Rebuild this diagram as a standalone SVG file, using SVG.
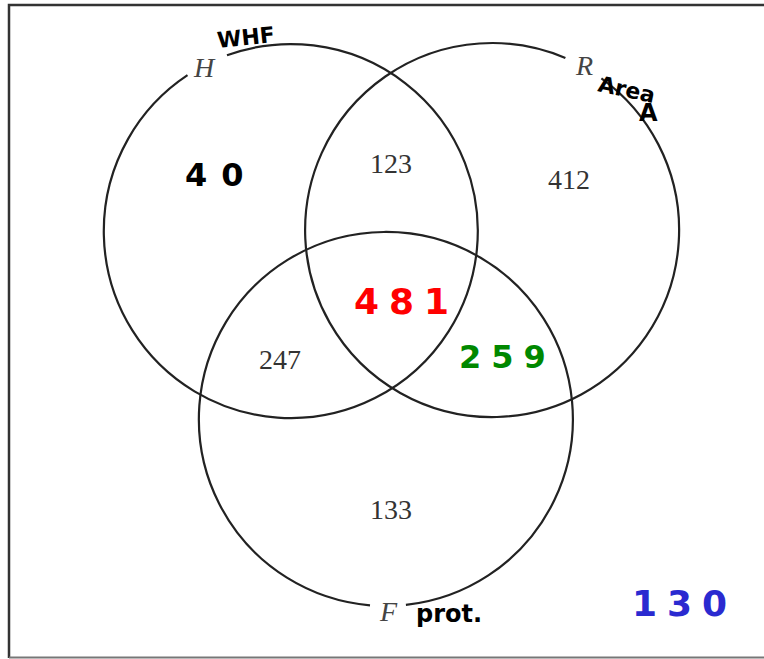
<svg xmlns="http://www.w3.org/2000/svg" width="764" height="659" viewBox="0 0 764 659">
<style>
.c{fill:none;stroke:#222;stroke-width:2.2}
.lab{font-family:"Liberation Serif",serif;font-style:italic;font-size:28px;fill:#444}
.num{font-family:"Liberation Serif",serif;font-size:28px;fill:#333;text-anchor:middle}
.hw{font-family:"DejaVu Sans",sans-serif;font-weight:bold}
</style>
<rect x="0" y="0" width="764" height="659" fill="#fff"/>
<path d="M9 658 V5 H764" fill="none" stroke="#333" stroke-width="2.5"/>
<line x1="9" y1="657.5" x2="764" y2="657.5" stroke="#777" stroke-width="2"/>
<g id="connectors"></g>
<g id="H">
<path class="c" d="M227 55.3 A187 187 0 1 1 187.5 75.2"/>
<text class="lab" x="194" y="77">H</text>
</g>
<g id="R">
<path class="c" d="M601.4 78.3 A187 187 0 1 1 565.4 58"/>
<text class="lab" x="576" y="75">R</text>
</g>
<g id="F">
<path class="c" d="M370 605.3 A187 187 0 1 1 405.9 604.9"/>
<text class="lab" x="380" y="621">F</text>
</g>
<g id="regions">
<text class="num" x="391" y="173">123</text>
<text class="num" x="569" y="189">412</text>
<text class="num" x="280" y="369">247</text>
<text class="num" x="391" y="519">133</text>
</g>
<g id="handwriting">
<text class="hw" x="218" y="48" font-size="22" fill="#000" transform="rotate(-6 218 48)">WHF</text>
<text class="hw" x="185" y="186" font-size="32" fill="#000" letter-spacing="14">40</text>
<text class="hw" x="597" y="91" font-size="22" fill="#000" transform="rotate(12 597 91)">Area</text>
<text class="hw" x="639" y="121" font-size="24" fill="#000">A</text>
<text class="hw" x="416" y="622" font-size="24" fill="#000">prot.</text>
<text class="hw" x="354" y="314" font-size="36" fill="#f00" letter-spacing="10">481</text>
<text class="hw" x="459" y="368" font-size="32" fill="#080" letter-spacing="10">259</text>
<text class="hw" x="632" y="616" font-size="36" fill="#2a2ad0" letter-spacing="10" font-weight="normal">130</text>
</g>
</svg>
